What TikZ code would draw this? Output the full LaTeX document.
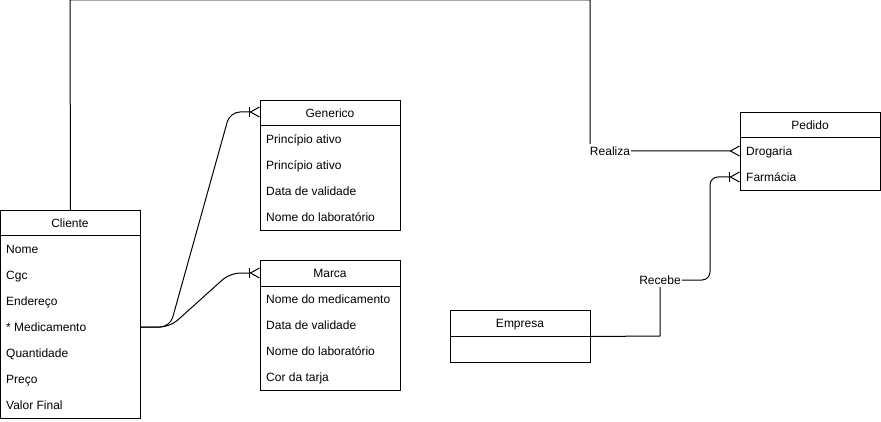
\documentclass[tikz,border=0pt]{standalone}
\usepackage{fontspec}
\setmainfont{Liberation Sans}
\usetikzlibrary{positioning,arrows.meta}

\tikzset{
  tabela/.style={draw, line width=1pt, anchor=north west, minimum width=140pt, inner sep=0pt},
  titulo/.style={font=\fontsize{12}{14}\selectfont, inner sep=0pt, text height=10pt, text depth=1pt},
  campo/.style={font=\fontsize{12}{14}\selectfont, anchor=west, inner sep=0pt, text height=10pt, text depth=1pt},
  ligacao/.style={line width=1pt},
  rotulo/.style={font=\fontsize{12}{14}\selectfont, fill=white, inner sep=1pt, text height=10pt, text depth=1pt},
  muitos/.style={-{Straight Barb[reversed, length=9pt, width=10pt, line width=1pt]}},
  umMuitos/.style={-{Bar[width=10pt, line width=1pt, sep=-1pt] Straight Barb[reversed, length=9pt, width=10pt, line width=1pt]}}
}

\begin{document}
\begin{tikzpicture}[x=1pt, y=-1pt]
    \useasboundingbox (0,0) rectangle (881,422);
    % Cliente
    \node[tabela, minimum height=208pt] (cliente) at (0,210) {};
    \draw[ligacao] (0,236) -- (140,236);
    \node[titulo] (cli0) at (70,223) {Cliente};
    \foreach \t [count=\i] in {Nome, Cgc, Endereço, * Medicamento, Quantidade, Preço, Valor Final}
        \node[campo] (cli\i) at (6,223+26*\i) {\t};
    % Generico
    \node[tabela, minimum height=130pt] (generico) at (260,100) {};
    \draw[ligacao] (260,126) -- (400,126);
    \node[titulo] (gen0) at (330,113) {Generico};
    \foreach \t [count=\i] in {Princípio ativo, Princípio ativo, Data de validade, Nome do laboratório}
        \node[campo] (gen\i) at (266,113+26*\i) {\t};
    % Marca
    \node[tabela, minimum height=130pt] (marca) at (260,260) {};
    \draw[ligacao] (260,286) -- (400,286);
    \node[titulo] (mar0) at (330,273) {Marca};
    \foreach \t [count=\i] in {Nome do medicamento, Data de validade, Nome do laboratório, Cor da tarja}
        \node[campo] (mar\i) at (266,273+26*\i) {\t};
    % Pedido
    \node[tabela, minimum height=78pt] (pedido) at (740,112) {};
    \draw[ligacao] (740,138) -- (880,138);
    \node[titulo] (ped0) at (810,125) {Pedido};
    \foreach \t [count=\i] in {Drogaria, Farmácia}
        \node[campo] (ped\i) at (746,125+26*\i) {\t};
    % Empresa
    \node[tabela, minimum height=52pt] (empresa) at (450,310) {};
    \draw[ligacao] (450,336) -- (590,336);
    \node[titulo] (emp0) at (520,323) {Empresa};
    % Ligacoes
    \draw[ligacao, rounded corners=10pt, umMuitos] (cliente.east |- cli4) -- (170,327) -- (230,112) -- (generico.west |- 0,112);
    \draw[ligacao, rounded corners=10pt, umMuitos] (cliente.east |- cli4) -- (170,327) -- (230,273) -- (marca.west |- mar0);
    \draw[ligacao, muitos] (cliente.north) -- (70,0) -- (590,0) -- (590,151) -- (pedido.west |- ped1);
    \draw[ligacao, umMuitos] (empresa.east) -- (660,336) -- (660,280) [rounded corners=8pt] -- (710,280) -- (710,177) -- (pedido.west |- ped2);
    % Rotulos
    \node[rotulo] (realiza) at (610,151) {Realiza};
    \node[rotulo] (recebe) at (660,280) {Recebe};
\end{tikzpicture}
\end{document}
